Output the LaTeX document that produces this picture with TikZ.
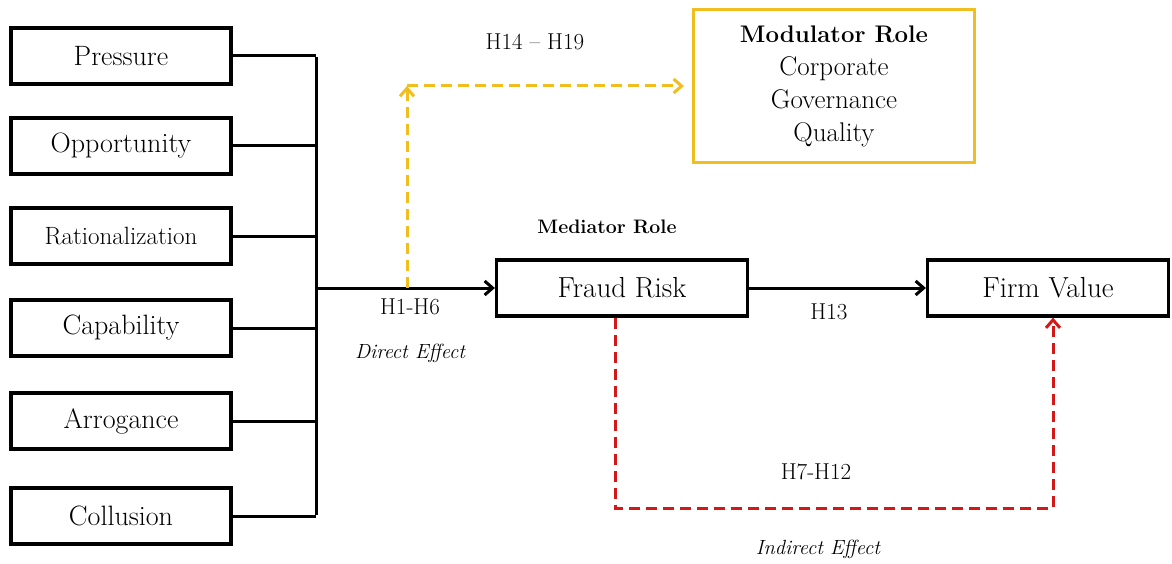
\documentclass[tikz,border=0pt]{standalone}
\usepackage{fontspec}
\usetikzlibrary{arrows.meta}
\definecolor{jaune}{RGB}{240,190,30}
\definecolor{rouge}{RGB}{212,24,24}

\begin{document}
\begin{tikzpicture}[x=1pt,y=-1pt,
    boite/.style={draw,line width=3.2pt,minimum height=56pt,inner sep=0pt},
    lien/.style={line width=3pt,-{Straight Barb[length=8pt,width=14pt]}},
    tiret/.style={dash pattern=on 11pt off 6pt},
    etiq/.style={font=\fontsize{23}{26}\selectfont},
    effet/.style={font=\fontsize{20.5}{24}\selectfont\itshape}]
\useasboundingbox (0,0) rectangle (1172,564);

% les six facteurs a gauche
\foreach \y/\nom/\texte/\taille in {56/pres/Pressure/28, 146/opp/Opportunity/28, 236/rat/Rationalization/25, 328/cap/Capability/28, 421/arr/Arrogance/28, 516/col/Collusion/28} {
    \node[boite,minimum width=220pt,font=\fontsize{\taille}{30}\selectfont] (\nom) at (121,\y) {\texte};
    \coordinate (bus\nom) at (316,\y);
    \draw[line width=3pt] (\nom.east) -- (bus\nom);
}
\draw[line width=3pt] ([yshift=-1.5pt]buspres) -- ([yshift=1.5pt]buscol);

% mediateur et valeur
\node[boite,minimum width=251pt,font=\fontsize{29}{30}\selectfont] (fraude) at (622,288) {Fraud Risk};
\node[boite,minimum width=241pt,font=\fontsize{29}{30}\selectfont] (valeur) at (1048,288) {Firm Value};
\node[draw=jaune,line width=3.2pt,minimum width=281pt,minimum height=153pt,align=center,font=\fontsize{27}{33}\selectfont] (mod) at (834,86)
    {{\fontsize{24}{33}\selectfont\bfseries Modulator Role}\\Corporate\\Governance\\Quality};

\coordinate (jonction) at (316,288);
\coordinate (depart) at (407,288);
\coordinate (coin) at (407,86);
\coordinate (basrouge) at (835,508);

\draw[lien] (jonction) -- (fraude.west);
\draw[lien] (fraude.east) -- (valeur.west);
\draw[lien,jaune,tiret] (depart) -- (coin);
\draw[lien,jaune,tiret,shorten >=8pt] (coin) -- (mod.west);
\draw[lien,rouge,tiret] ([xshift=-7pt]fraude.south) |- (basrouge) -| ([xshift=5pt]valeur.south);

% etiquettes
\node[etiq] (h14) at (535,42) {H14 -- H19};
\node[font=\fontsize{19.5}{22}\selectfont\bfseries] (med) at (607,227) {Mediator Role};
\node[etiq] (h1) at (410,307) {H1-H6};
\node[effet] (direct) at (410,353) {Direct Effect};
\node[etiq] (h13) at (829,312) {H13};
\node[etiq] (h7) at (816,472) {H7-H12};
\node[effet] (indirect) at (818,549) {Indirect Effect};
\end{tikzpicture}
\end{document}
